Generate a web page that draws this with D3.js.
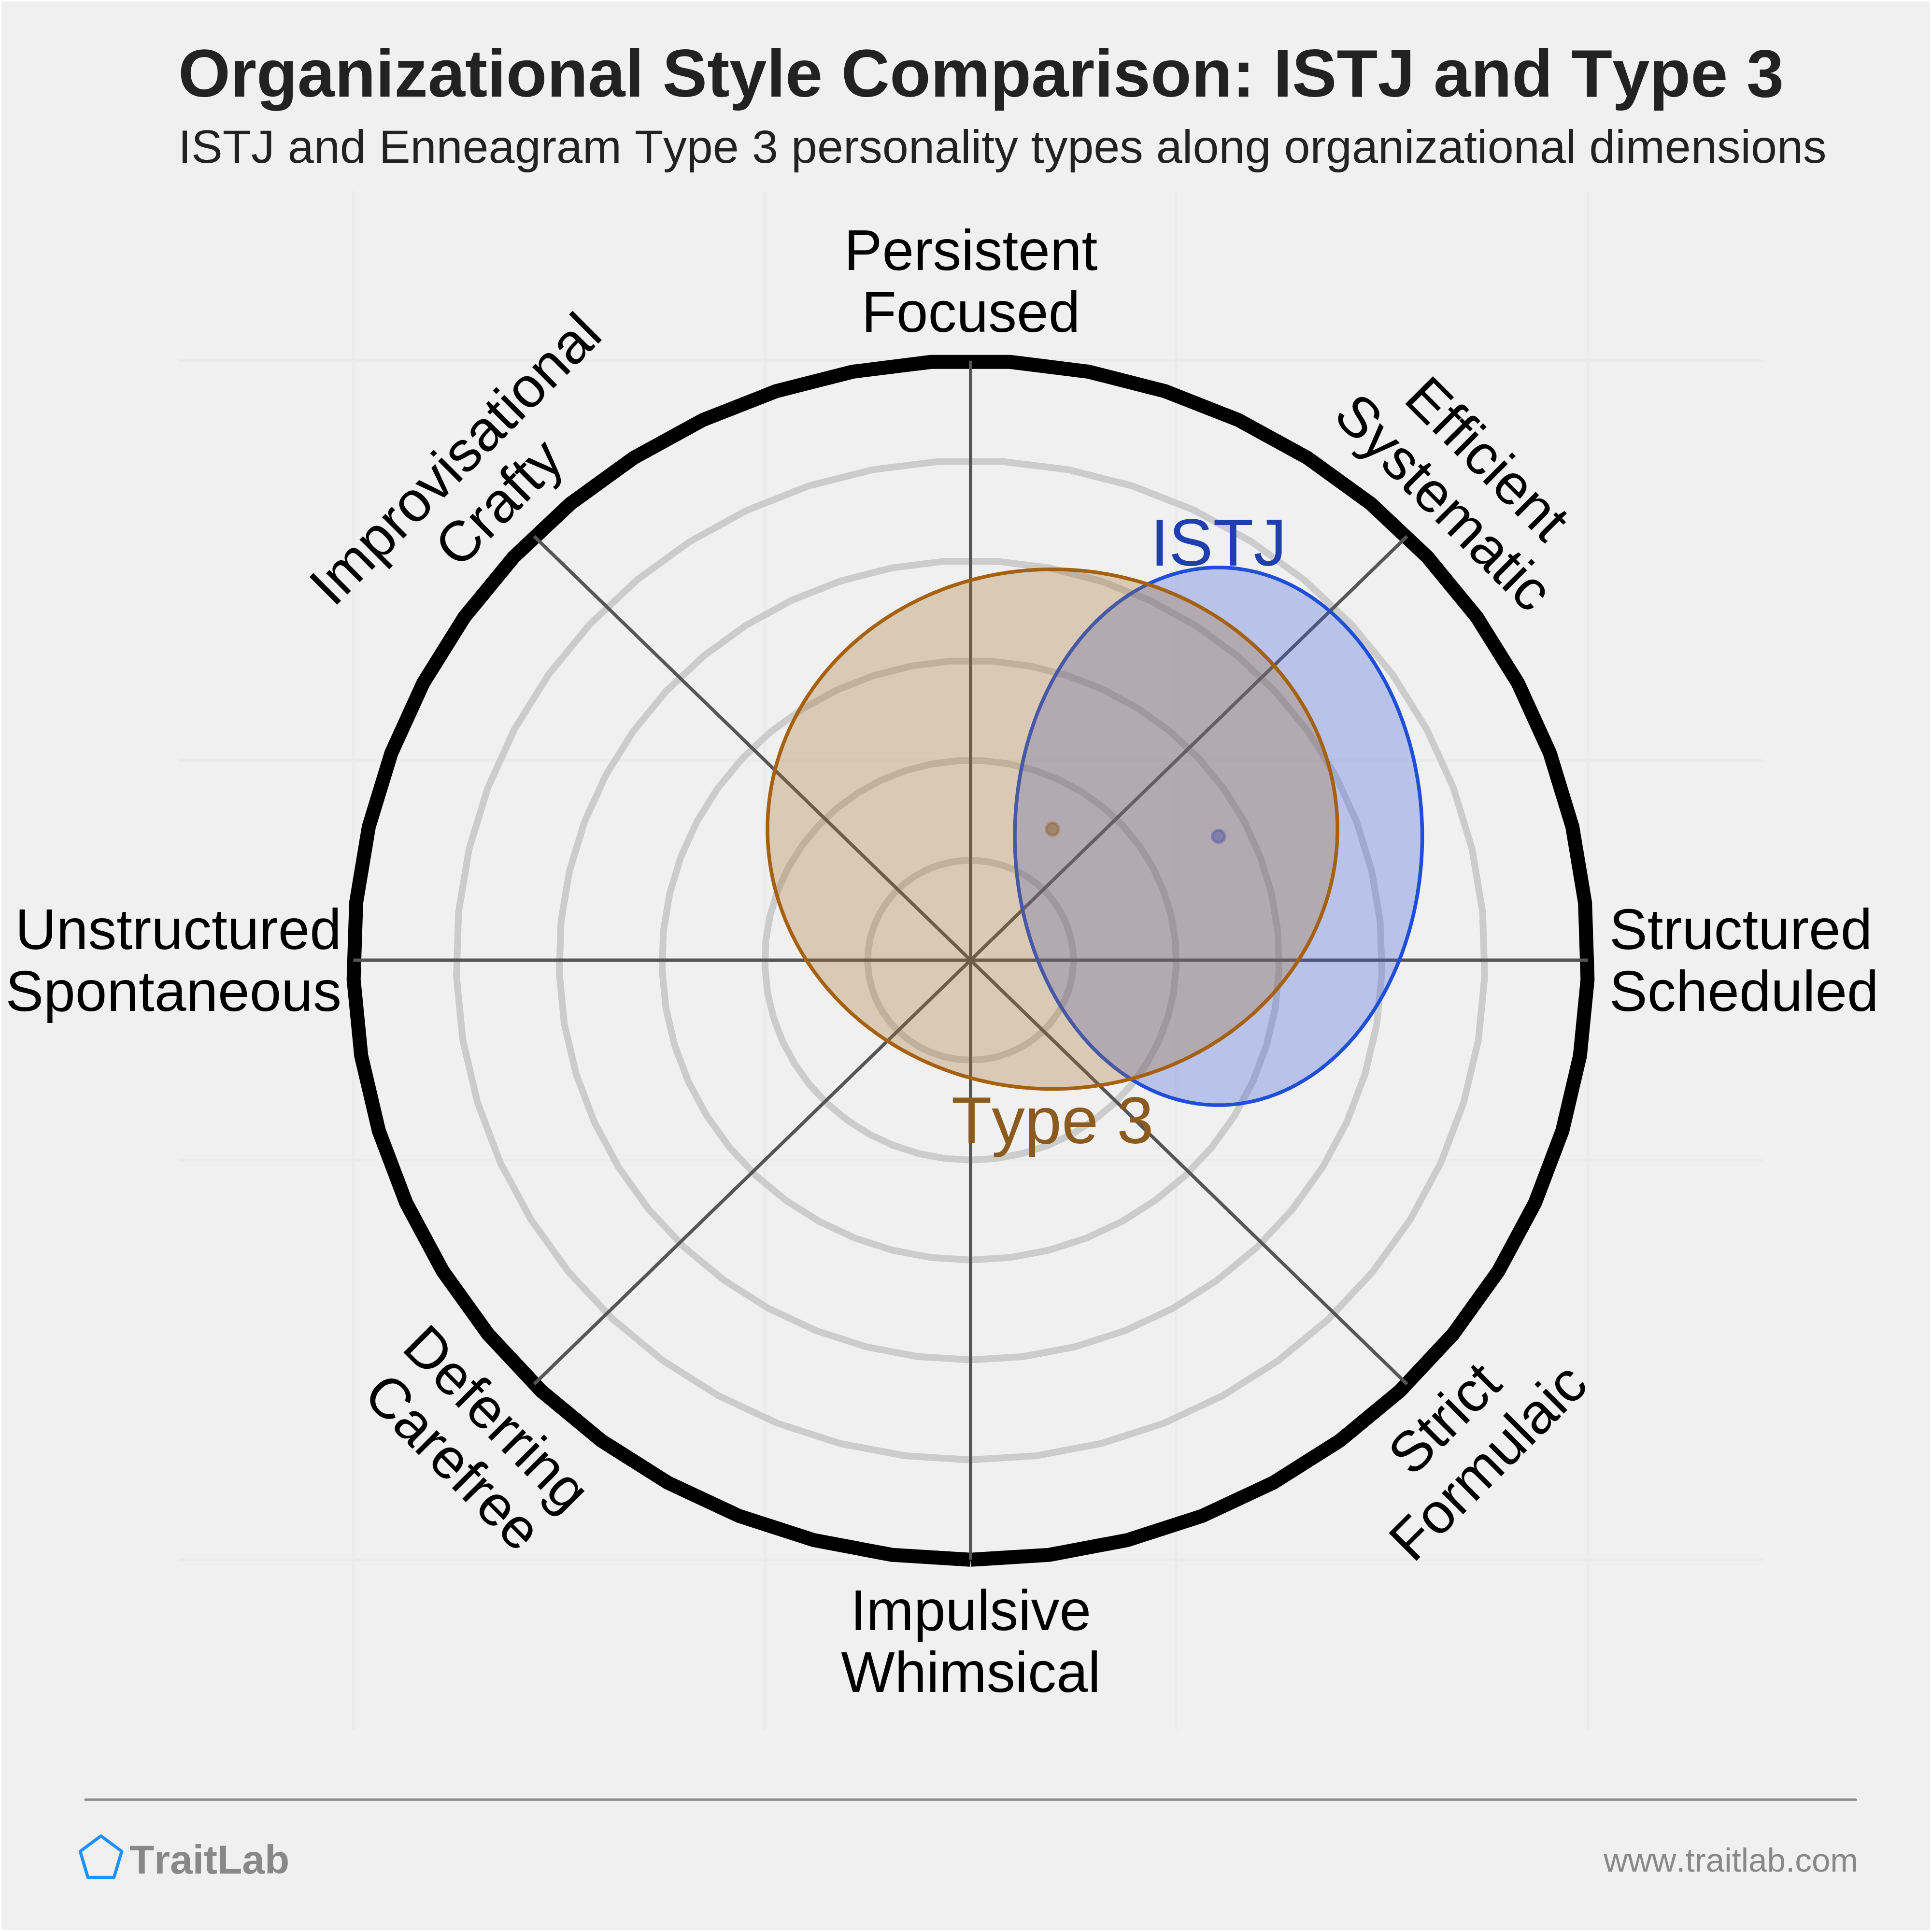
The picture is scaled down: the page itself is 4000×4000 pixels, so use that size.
<!DOCTYPE html>
<html><head><meta charset="utf-8">
<script src="https://cdn.jsdelivr.net/npm/d3@7/dist/d3.min.js"></script>
<style>html,body{margin:0;padding:0;background:#fff}svg{display:block}text{font-family:"Liberation Sans",Arial,sans-serif;font-kerning:none}</style>
</head><body><div id="chart"></div>
<script>
const titleText = "Organizational Style Comparison: ISTJ and Type 3";
const subtitleText = "ISTJ and Enneagram Type 3 personality types along organizational dimensions";
const gridTicks = [-6, -2, 2, 6];
const ringLevels = [1, 2, 3, 4, 5];
const outerLevel = 6;
const spokeAngles = [0, 45, 90, 135, 180, 225, 270, 315];
const axisLabels = [
  ["Structured", "Scheduled"], ["Efficient", "Systematic"], ["Persistent", "Focused"], ["Improvisational", "Crafty"],
  ["Unstructured", "Spontaneous"], ["Deferring", "Carefree"], ["Impulsive", "Whimsical"], ["Strict", "Formulaic"]
];
const seriesNames = ["ISTJ", "Type 3"];
const centersX = [2.41, 0.796];
const centersY = [1.24, 1.312];
const radiiX = [1.98, 2.77];
const radiiY = [2.69, 2.60];

const W = 4000;
const svg = d3.select("#chart").append("svg").attr("width", W).attr("height", W).attr("viewBox", `0 0 ${W} ${W}`);
const x = d3.scaleLinear().domain([-7.7, 7.7]).range([369.4, 3649.6]);
const y = d3.scaleLinear().domain([-7.7, 7.7]).range([3581, 395]);

svg.append("rect").attr("x", 3).attr("y", 3).attr("width", 3993).attr("height", 3993).attr("fill", "#f0f0f0");

// faint grid
svg.append("g").selectAll("line").data(gridTicks).join("line")
  .attr("x1", d => x(d)).attr("x2", d => x(d)).attr("y1", y.range()[1]).attr("y2", y.range()[0])
  .attr("stroke", "#ebebeb").attr("stroke-width", 6);
svg.append("g").selectAll("line").data(gridTicks).join("line")
  .attr("y1", d => y(d)).attr("y2", d => y(d)).attr("x1", x.range()[0]).attr("x2", x.range()[1])
  .attr("stroke", "#ebebeb").attr("stroke-width", 6);

// polygonal rings: 50 samples starting at the bottom
const ringLine = d3.line().x(d => x(d[0])).y(d => y(d[1]));
const ringPts = r => d3.range(50).map(i => {
  const a = -Math.PI / 2 + i * 2 * Math.PI / 49;
  return [r * Math.cos(a), r * Math.sin(a)];
});
svg.append("g").selectAll("path").data(ringLevels).join("path")
  .attr("d", d => ringLine(ringPts(d))).attr("fill", "none").attr("stroke", "#cccccc").attr("stroke-width", 14).attr("stroke-linejoin", "miter");
svg.append("path").attr("d", ringLine(ringPts(outerLevel))).attr("fill", "none").attr("stroke", "#000").attr("stroke-width", 29);

// spokes
svg.append("g").selectAll("line").data(spokeAngles).join("line")
  .attr("x1", x(0)).attr("y1", y(0))
  .attr("x2", d => x(outerLevel * Math.cos(d * Math.PI / 180)))
  .attr("y2", d => y(outerLevel * Math.sin(d * Math.PI / 180)))
  .attr("stroke", "#555555").attr("stroke-width", 7);

// ellipses with their centre dots
const fills = ["#3a58d8", "#a4702f"];
const edges = ["#1f4fd8", "#a5610f"];
const dotCols = ["#2040d8", "#8b5a1e"];
const textCols = ["#1f3fb0", "#8b5a1e"];
const ellipse = i => d3.range(361).map(k => {
  const a = k * Math.PI / 180;
  return [centersX[i] + radiiX[i] * Math.cos(a), centersY[i] + radiiY[i] * Math.sin(a)];
});
seriesNames.forEach((n, i) => {
  svg.append("path").attr("d", ringLine(ellipse(i)) + "Z").attr("fill", fills[i]).attr("fill-opacity", 0.3).attr("stroke", "none");
  svg.append("path").attr("d", ringLine(ellipse(i)) + "Z").attr("fill", "none").attr("stroke", edges[i]).attr("stroke-width", 7.5);
  svg.append("circle").attr("cx", x(centersX[i])).attr("cy", y(centersY[i])).attr("r", 13)
    .attr("fill", dotCols[i]).attr("fill-opacity", 0.45).attr("stroke", dotCols[i]).attr("stroke-opacity", 0.35).attr("stroke-width", 6);
});

// series labels
const seriesLabelPos = [[2.41, 3.95], [0.796, -1.83]];
seriesNames.forEach((n, i) => {
  svg.append("text").attr("x", x(seriesLabelPos[i][0])).attr("y", y(seriesLabelPos[i][1]))
    .attr("text-anchor", "middle").attr("font-size", 137).attr("fill", textCols[i]).text(n);
});

// axis labels
const FS = 118, LH = 127.5;
const labelSpec = [
  {px: 3332, py: 1965, rot: 0, anchor: "start"},
  {px: 3051, py: 978, rot: 45, anchor: "middle"},
  {px: 2010, py: 559, rot: 0, anchor: "middle"},
  {px: 971, py: 979, rot: -45, anchor: "middle"},
  {px: 707, py: 1965, rot: 0, anchor: "end"},
  {px: 1000, py: 2965, rot: 45, anchor: "middle"},
  {px: 2010, py: 3375, rot: 0, anchor: "middle"},
  {px: 3019, py: 2965, rot: -45, anchor: "middle"}
];
axisLabels.forEach((lines, i) => {
  const s = labelSpec[i];
  const g = svg.append("g").attr("transform", `translate(${s.px},${s.py}) rotate(${s.rot})`);
  lines.forEach((t, j) => g.append("text").attr("x", 0).attr("y", j * LH).attr("text-anchor", s.anchor)
    .attr("font-size", FS).attr("fill", "#000").text(t));
});

// headings
svg.append("text").attr("x", 369).attr("y", 200).attr("font-size", 138.8).attr("font-weight", "bold").attr("fill", "#222222").text(titleText);
svg.append("text").attr("x", 369).attr("y", 337).attr("font-size", 97.15).attr("fill", "#222222").text(subtitleText);

// footer
svg.append("line").attr("x1", 177).attr("x2", 3842).attr("y1", 3726).attr("y2", 3726).attr("stroke", "#888888").attr("stroke-width", 5).attr("stroke-linecap", "round");
const logoX = [209, 252, 236, 182, 166];
const logoY = [3801, 3833, 3887, 3887, 3833];
svg.append("path").attr("d", d3.line()(logoX.map((v, i) => [v, logoY[i]])) + "Z").attr("fill", "none").attr("stroke", "#1e90ff").attr("stroke-width", 6.5).attr("stroke-linejoin", "round");
svg.append("text").attr("x", 268).attr("y", 3879).attr("font-size", 84).attr("font-weight", "bold").attr("fill", "#888888").text("TraitLab");
svg.append("text").attr("x", 3847).attr("y", 3875).attr("text-anchor", "end").attr("font-size", 69.2).attr("fill", "#888888").text("www.traitlab.com");
</script></body></html>
